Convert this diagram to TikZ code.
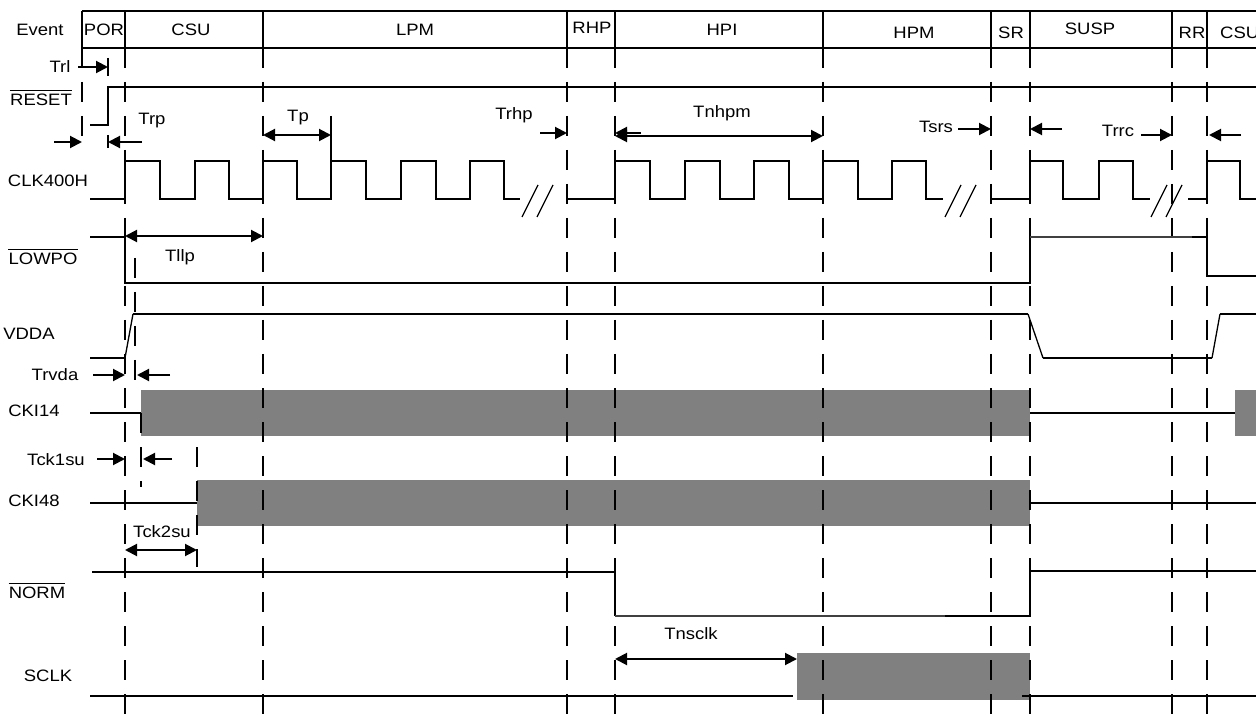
\documentclass[tikz,border=0pt]{standalone}
\usepackage{fontspec}
\setmainfont{Liberation Sans}[FakeStretch=1.12]
\usetikzlibrary{arrows.meta}
\definecolor{boxgray}{RGB}{128,128,128}
\begin{document}
\begin{tikzpicture}[x=1pt,y=-1pt,
  sig/.style={line width=2pt},
  thinsig/.style={line width=1.3pt},
  gridline/.style={line width=2pt, dash pattern=on 20pt off 14pt},
  tickline/.style={line width=2pt},
  dim/.style={line width=2pt, -{Triangle[length=12pt,width=12pt]}},
  ddim/.style={line width=2pt, {Triangle[length=12pt,width=12pt]}-{Triangle[length=12pt,width=12pt]}},
  lbl/.style={font=\fontsize{16.5}{19}\selectfont, inner sep=0pt},
  graybox/.style={fill=boxgray, draw=none},
  ovl/.style={line width=1.6pt}]
\useasboundingbox (0,0) rectangle (1256,727);
\fill[white] (0,0) rectangle (1256,727);

% gray boxes
\fill[graybox] (141,390) rectangle (1030,436);
\fill[graybox] (1235,390) rectangle (1262,436);
\fill[graybox] (197,480) rectangle (1030,526);
\fill[graybox] (797,653) rectangle (1030,700);

% header
\draw[sig] (82,11) -- (1262,11);
\draw[sig] (82,48) -- (1262,48);
\foreach \x in {82,125,263,566.7,615,823,991,1030,1172,1207}
  \draw[sig] (\x,11) -- (\x,48);

% dashed timing lines
\foreach \x in {125,263,567,615,823,991,1030,1172,1207}
  \draw[gridline] (\x,48) -- (\x,727);
\draw[gridline] (82,48) -- (82,148);
\draw[tickline] (108,58) -- (108,76);
\draw[tickline] (108,135) -- (108,148);
\draw[gridline] (135,258) -- (135,380);
\draw[gridline] (141,413) -- (141,487);
\draw[gridline] (197,447) -- (197,567);

% RESET
\draw[sig] (90,125) -- (108,125) -- (108,87) -- (1262,87);

% CLK400H
\draw[sig] (90,199) -- (125,199) -- (125,161) -- (160,161) -- (160,199) -- (195,199) -- (195,161) -- (229,161) -- (229,199) -- (263,199) -- (263,161) -- (297,161) -- (297,199) -- (331,199) -- (331,161) -- (366,161) -- (366,199) -- (401,199) -- (401,161) -- (436,161) -- (436,199) -- (470,199) -- (470,161) -- (504,161) -- (504,199) -- (520,199);
\draw[sig] (331,116) -- (331,161);
\draw[thinsig] (522,217) -- (538,185);
\draw[thinsig] (537,217) -- (553,185);
\draw[sig] (567,199) -- (615,199) -- (615,161) -- (650,161) -- (650,199) -- (685,199) -- (685,161) -- (720,161) -- (720,199) -- (754,199) -- (754,161) -- (789,161) -- (789,199) -- (823,199) -- (823,161) -- (858,161) -- (858,199) -- (892,199) -- (892,161) -- (926,161) -- (926,199) -- (943,199);
\draw[thinsig] (945,217) -- (961,185);
\draw[thinsig] (960,217) -- (976,185);
\draw[sig] (991,199) -- (1030,199) -- (1030,161) -- (1063,161) -- (1063,199) -- (1099,199) -- (1099,161) -- (1133,161) -- (1133,199) -- (1150,199);
\draw[thinsig] (1151,217) -- (1167,185);
\draw[thinsig] (1166,217) -- (1182,185);
\draw[sig] (1188,199) -- (1207,199) -- (1207,161) -- (1240,161) -- (1240,199) -- (1262,199);

% LOWPO
\draw[sig] (90,237) -- (125,237) -- (125,283) -- (1030,283) -- (1030,237);
\draw[thinsig, black!75] (1030,237) -- (1192,237);
\draw[sig] (1192,237) -- (1207,237) -- (1207,276) -- (1262,276);

% VDDA
\draw[sig] (90,358) -- (125,358);
\draw[thinsig] (125,358) -- (133,314);
\draw[sig] (133,314) -- (1028,314);
\draw[thinsig] (1028,314) -- (1043,358);
\draw[sig] (1043,358) -- (1212,358);
\draw[thinsig] (1212,358) -- (1220,314);
\draw[sig] (1220,314) -- (1262,314);

% CKI14
\draw[sig] (90,413) -- (141,413);
\draw[sig] (1030,413) -- (1235,413);

% CKI48
\draw[sig] (90,503) -- (197,503);
\draw[sig] (1030,503) -- (1262,503);

% NORM
\draw[sig] (92,572) -- (615,572) -- (615,616);
\draw[thinsig, black!75] (615,616) -- (945,616);
\draw[sig] (945,616) -- (1030,616) -- (1030,571) -- (1262,571);

% SCLK
\draw[sig] (90,696) -- (793,696);
\draw[sig] (1022,696) -- (1262,696);

% dimension arrows
\draw[dim] (78,67) -- (108,67);
\draw[dim] (54,142) -- (82,142);
\draw[dim] (142,142) -- (108,142);
\draw[ddim] (263,135) -- (331,135);
\draw[dim] (540,133) -- (567,133);
\draw[dim] (641,133) -- (615,133);
\draw[ddim] (615,136) -- (823,136);
\draw[dim] (958,129) -- (991,129);
\draw[dim] (1062,129) -- (1030,129);
\draw[dim] (1141,135) -- (1172,135);
\draw[dim] (1241,135) -- (1209,135);
\draw[ddim] (125,236) -- (263,236);
\draw[dim] (93,375) -- (125,375);
\draw[dim] (170,375) -- (137,375);
\draw[dim] (97,459) -- (125,459);
\draw[dim] (172,459) -- (143,459);
\draw[ddim] (125,550) -- (197,550);
\draw[ddim] (615,659) -- (797,659);

% header labels
\node[lbl] (hEvent) at (40,30) {Event};
\node[lbl] (hPOR) at (104,30) {POR};
\node[lbl] (hCSU) at (191,30) {CSU};
\node[lbl] (hLPM) at (415,30) {LPM};
\node[lbl] (hRHP) at (592,28) {RHP};
\node[lbl] (hHPI) at (722,30) {HPI};
\node[lbl] (hHPM) at (914,33) {HPM};
\node[lbl] (hSR) at (1011,33) {SR};
\node[lbl] (hSUSP) at (1090,29) {SUSP};
\node[lbl] (hRR) at (1192,33) {RR};
\node[lbl, anchor=west] (hCSU2) at (1220,33) {CSU};

% signal labels
\node[lbl] (lReset) at (41,100) {RESET};
\draw[ovl] ([yshift=3.5pt]lReset.north west) -- ([yshift=3.5pt]lReset.north east);
\node[lbl] (lClk) at (48,181) {CLK400H};
\node[lbl] (lLowpo) at (43,259) {LOWPO};
\draw[ovl] ([yshift=3.5pt]lLowpo.north west) -- ([yshift=3.5pt]lLowpo.north east);
\node[lbl] (lVdda) at (29,334) {VDDA};
\node[lbl] (lCki14) at (34,411) {CKI14};
\node[lbl] (lCki48) at (34,501) {CKI48};
\node[lbl] (lNorm) at (37,593) {NORM};
\draw[ovl] ([yshift=3.5pt]lNorm.north west) -- ([yshift=3.5pt]lNorm.north east);
\node[lbl] (lSclk) at (48,676) {SCLK};

% timing labels
\node[lbl] (tTrl) at (60,67) {Trl};
\node[lbl] (tTrp) at (152,121) {Trp};
\node[lbl] (tTp) at (298,118) {Tp};
\node[lbl] (tTrhp) at (514,115) {Trhp};
\node[lbl] (tTnhpm) at (722,113) {Tnhpm};
\node[lbl] (tTsrs) at (936,127) {Tsrs};
\node[lbl] (tTrrc) at (1118,131) {Trrc};
\node[lbl] (tTllp) at (180,257) {Tllp};
\node[lbl] (tTrvda) at (55,375) {Trvda};
\node[lbl] (tTck1su) at (56,460) {Tck1su};
\node[lbl] (tTck2su) at (162,532) {Tck2su};
\node[lbl] (tTnsclk) at (691,634) {Tnsclk};
\end{tikzpicture}
\end{document}
